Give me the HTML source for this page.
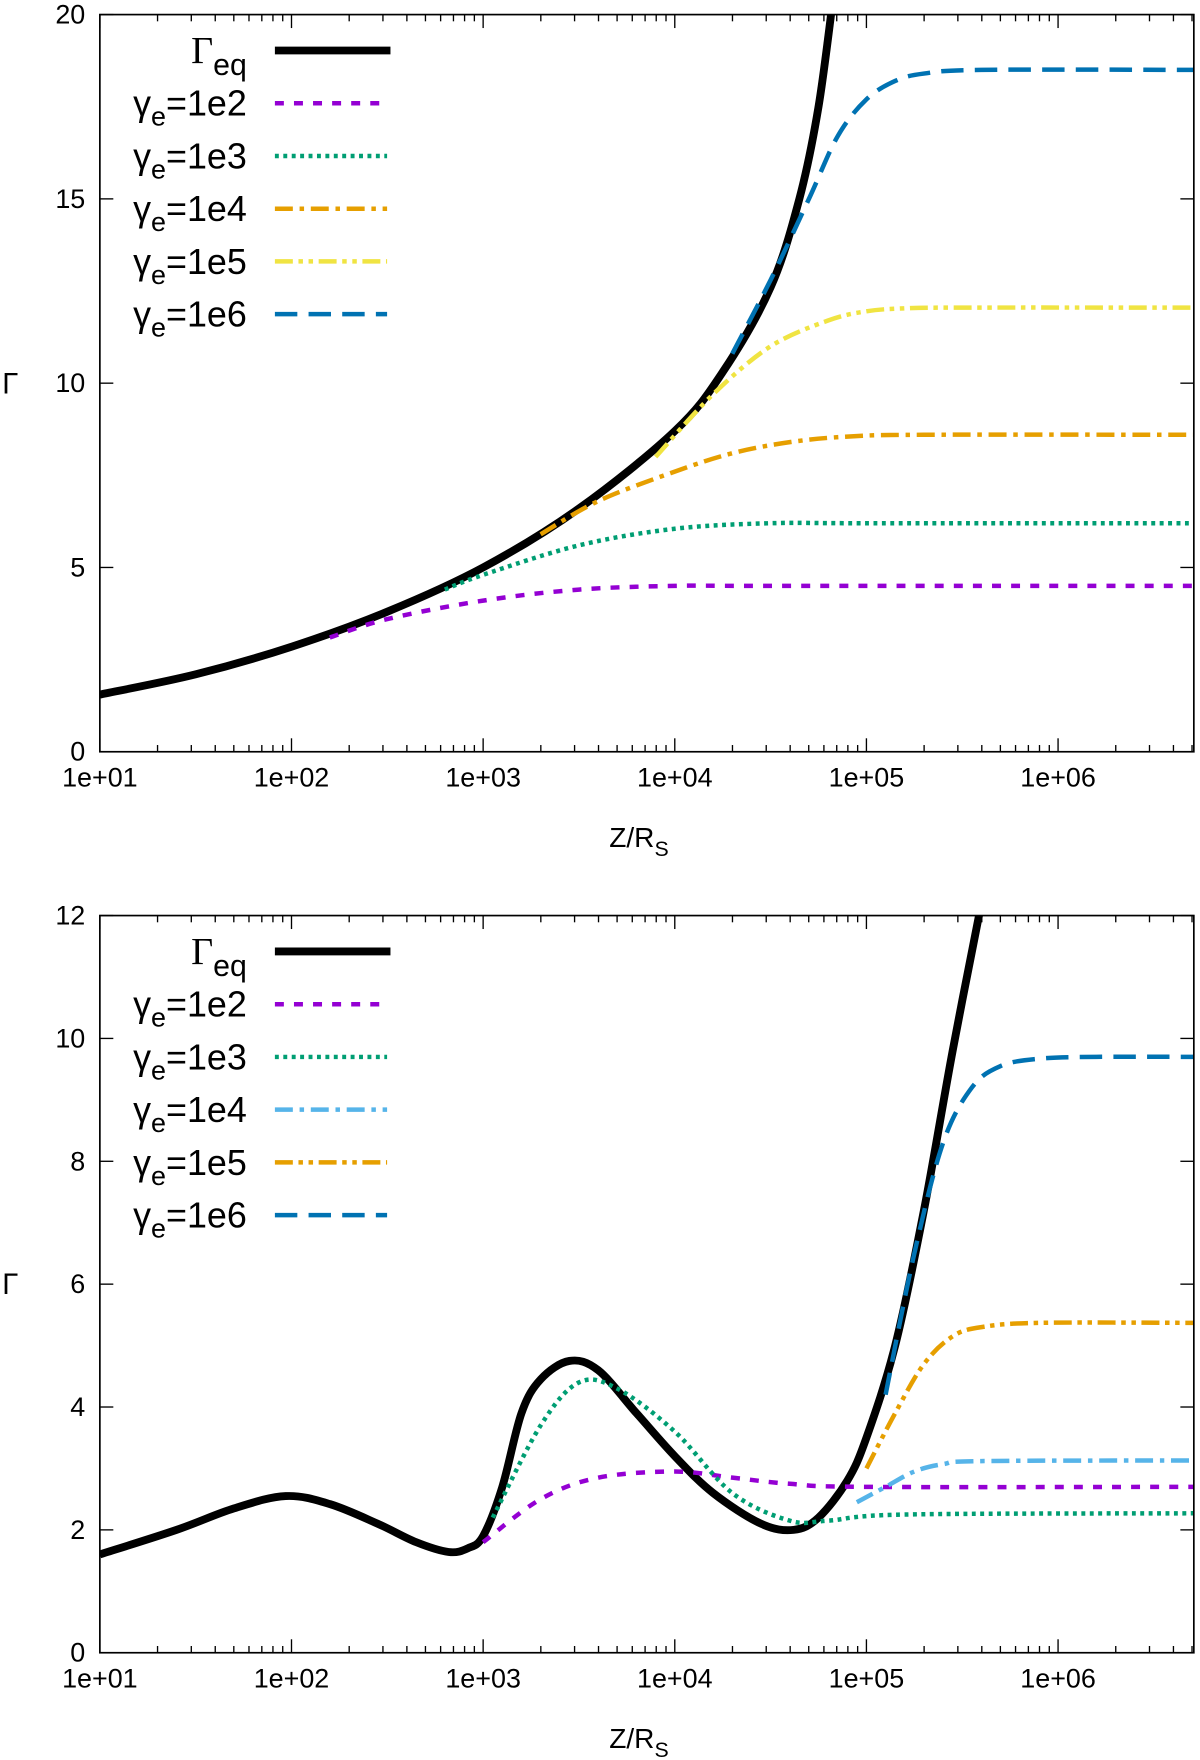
<!DOCTYPE html>
<html><head><meta charset="utf-8"><style>
html,body{margin:0;padding:0;background:#fff}
svg{display:block}
text{font-family:"Liberation Sans",sans-serif;fill:#000}
</style></head><body>
<svg id="fig" width="1200" height="1760" viewBox="0 0 1069.5 1568.6" preserveAspectRatio="none" xmlns="http://www.w3.org/2000/svg"></svg>
<script>
// ---- data (log10 Z/Rs, Gamma) ----
const xTicks = [1,2,3,4,5,6];
const xTickLabels = ["1e+01","1e+02","1e+03","1e+04","1e+05","1e+06"];
const topYTicks = [0,5,10,15,20];
const botYTicks = [0,2,4,6,8,10,12];
const legendLabels = ["1e2","1e3","1e4","1e5","1e6"];

const topEqX = [1,1.5,2,2.5,3,3.5,4,4.25,4.5,4.65,4.75,4.83];
const topEqY = [1.55,2.1,2.85,3.8,5.0,6.6,8.7,10.3,12.6,15,17.5,20.6];
const top1e2X = [2.2,2.5,3,3.5,4,4.5,6.71];
const top1e2Y = [3.1,3.6,4.1,4.4,4.5,4.5,4.5];
const top1e3X = [2.8,3,3.5,4,4.5,5,6.71];
const top1e3Y = [4.4,4.8,5.6,6.05,6.2,6.2,6.2];
const top1e4X = [3.3,3.6,4,4.3,4.6,4.9,5.3,6.71];
const top1e4Y = [5.9,6.8,7.6,8.1,8.4,8.55,8.6,8.6];
const top1e5X = [3.9,4.2,4.5,4.8,5,5.2,5.5,6.71];
const top1e5Y = [8.0,9.7,11.0,11.7,11.95,12.03,12.05,12.05];
const top1e6X = [4.3,4.5,4.7,4.85,5,5.15,5.3,5.6,6.71];
const top1e6Y = [10.8,12.8,15.0,16.7,17.7,18.2,18.4,18.5,18.5];

const botEqX = [1,1.4,1.7,1.97,2.2,2.45,2.65,2.82,2.92,3,3.1,3.2,3.3,3.45,3.6,3.8,4,4.2,4.45,4.62,4.75,4.9,5,5.15,5.3,5.45,5.6];
const botEqY = [1.6,2.0,2.35,2.55,2.42,2.1,1.8,1.64,1.7,1.9,2.7,3.9,4.45,4.75,4.6,3.9,3.2,2.6,2.1,2.0,2.2,2.8,3.5,5.0,7.2,9.8,12.2];
const bot1e2X = [3,3.3,3.6,4,4.3,4.6,5,6.71];
const bot1e2Y = [1.8,2.5,2.85,2.95,2.85,2.75,2.7,2.7];
const bot1e3X = [3.05,3.3,3.5,3.7,4,4.3,4.6,4.8,5.2,6.71];
const bot1e3Y = [2.2,3.7,4.4,4.3,3.6,2.6,2.15,2.15,2.25,2.27];
const bot1e4X = [4.95,5.1,5.25,5.4,5.6,6.71];
const bot1e4Y = [2.45,2.7,2.95,3.07,3.12,3.13];
const bot1e5X = [5.0,5.15,5.3,5.45,5.6,5.9,6.71];
const bot1e5Y = [3.0,3.9,4.7,5.15,5.3,5.37,5.37];
const bot1e6X = [5.1,5.25,5.4,5.55,5.7,5.9,6.2,6.71];
const bot1e6Y = [4.2,6.5,8.3,9.2,9.55,9.67,9.7,9.7];

const NS="http://www.w3.org/2000/svg";
const svg=document.getElementById('fig');
function el(t,a,p){const e=document.createElementNS(NS,t);for(const k in a)e.setAttribute(k,a[k]);(p||svg).appendChild(e);return e;}
const L=89,R=1064,XMAX=1+(R-L)/170.8;
function xs(v){return L+(v-1)/(XMAX-1)*(R-L);}
function spline(pts){let d="M"+pts[0][0]+","+pts[0][1];
 for(let i=0;i<pts.length-1;i++){const p0=pts[i-1]||pts[i],p1=pts[i],p2=pts[i+1],p3=pts[i+2]||p2;
  d+=" C"+(p1[0]+(p2[0]-p0[0])/6)+","+(p1[1]+(p2[1]-p0[1])/6)+" "+(p2[0]-(p3[0]-p1[0])/6)+","+(p2[1]-(p3[1]-p1[1])/6)+" "+p2[0]+","+p2[1];}
 return d;}

function panel(name,T,B,ymax,yTicks,series,legendLabels,colors,dashes){
 const g=el('g',{});  
 const ys=v=>B-v/ymax*(B-T);
 const cp='clip-'+name; const c=el('clipPath',{id:cp},g); el('rect',{x:L,y:T,width:R-L,height:B-T},c);
 for(let d=1;d<=6;d++){for(let m=1;m<10;m++){const v=d+Math.log10(m);if(v>XMAX)continue;const x=xs(v),len=m==1?12:6;
  el('line',{x1:x,y1:B,x2:x,y2:B-len,stroke:'#000','stroke-width':1.2},g);el('line',{x1:x,y1:T,x2:x,y2:T+len,stroke:'#000','stroke-width':1.2},g);}}
 xTicks.forEach((v,i)=>{const t=el('text',{x:xs(v),y:B+31,'text-anchor':'middle','font-size':24},g);t.textContent=xTickLabels[i];
  });
 yTicks.forEach(v=>{const y=ys(v);el('line',{x1:L,y1:y,x2:L+12,y2:y,stroke:'#000','stroke-width':1.2},g);el('line',{x1:R,y1:y,x2:R-12,y2:y,stroke:'#000','stroke-width':1.2},g);
  const t=el('text',{x:76,y:y+8,'text-anchor':'end','font-size':24},g);t.textContent=v;
  });
 const yl=el('text',{x:2,y:(T+B)/2+9,'font-size':26,'font-family':'Liberation Serif'},g);yl.textContent='Γ';
 
 const xl=el('text',{x:543,y:B+85,'font-size':25},g);xl.innerHTML='Z/R<tspan dy="8" font-size="19">S</tspan>';
 
 const cg=el('g',{'clip-path':'url(#'+cp+')'},g);
 series.forEach((s,i)=>{const pts=s[0].map((v,j)=>[xs(v),ys(s[1][j])]);
  const p=el('path',{d:spline(pts),fill:'none',stroke:colors[i],'stroke-width':i==0?7:4,'stroke-dasharray':dashes[i]},cg);
  });
 el('rect',{x:L,y:T,width:R-L,height:B-T,fill:'none',stroke:'#000','stroke-width':1.5},g);
 const ly0=T+32;
 for(let i=0;i<6;i++){const y=ly0+i*47;
  el('line',{x1:245,y1:y,x2:i==0?348:345,y2:y,stroke:colors[i],'stroke-width':i==0?7:4,'stroke-dasharray':dashes[i]},g);
  const t=el('text',{x:220,y:y+11,'text-anchor':'end','font-size':32},g);
  if(i==0)t.innerHTML='<tspan font-family="Liberation Serif" font-size="34">Γ</tspan><tspan dy="11" font-size="27">eq</tspan>';
  else t.innerHTML='γ<tspan dy="9" font-size="24">e</tspan><tspan dy="-9">=</tspan>'+legendLabels[i-1];
  }
}
panel('top-panel',13,670,20,topYTicks,
 [[topEqX,topEqY],[top1e2X,top1e2Y],[top1e3X,top1e3Y],[top1e4X,top1e4Y],[top1e5X,top1e5Y],[top1e6X,top1e6Y]],legendLabels,
 ['#000','#9400d3','#009e73','#e69f00','#f0e442','#0072b2'],['none','8,9','3.5,4','16,6,4,6','16,5,4,5,4,5','20,10']);
panel('bottom-panel',816,1473,12,botYTicks,
 [[botEqX,botEqY],[bot1e2X,bot1e2Y],[bot1e3X,bot1e3Y],[bot1e4X,bot1e4Y],[bot1e5X,bot1e5Y],[bot1e6X,bot1e6Y]],legendLabels,
 ['#000','#9400d3','#009e73','#56b4e9','#e69f00','#0072b2'],['none','8,9','3.5,4','16,6,4,6','16,5,4,5,4,5','20,10']);
</script>
</body></html>
